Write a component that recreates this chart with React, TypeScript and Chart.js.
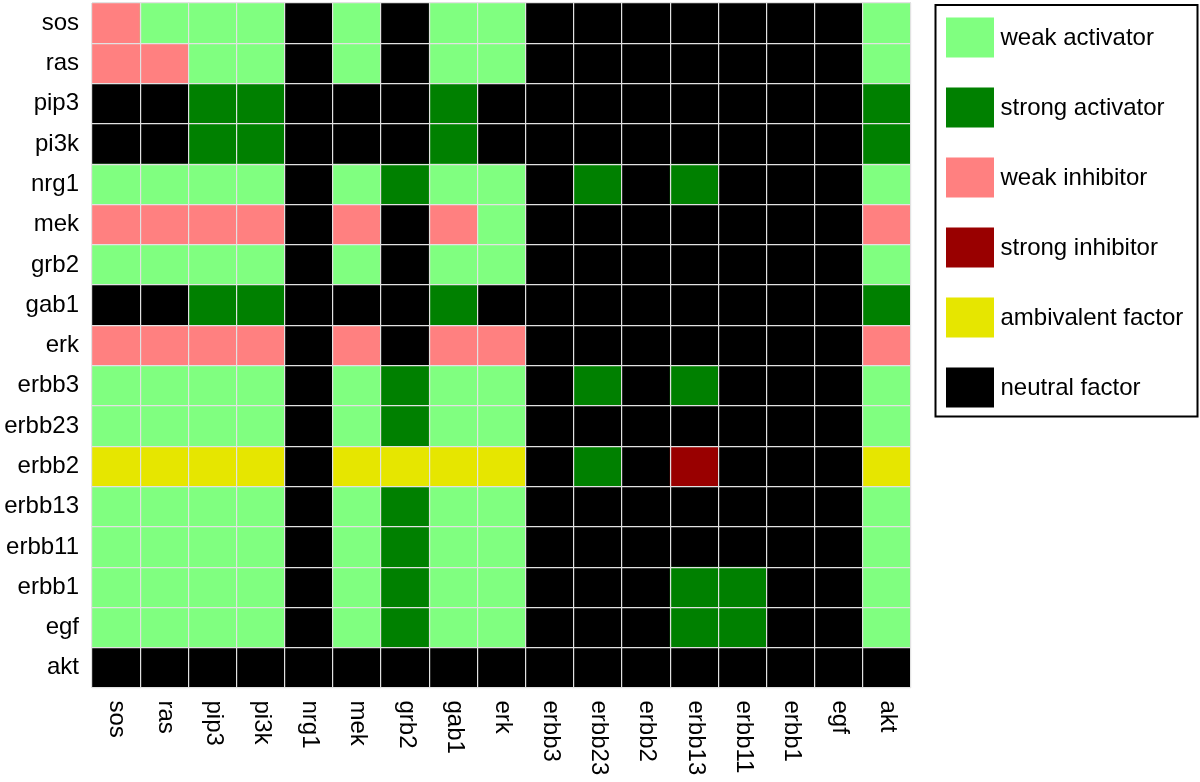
import React, { useEffect, useRef } from "react";
import { Chart, registerables } from "chart.js";

Chart.register(...registerables);

// Regulators (columns) and targets (rows), top to bottom
const columnLabels = ["sos", "ras", "pip3", "pi3k", "nrg1", "mek", "grb2", "gab1", "erk", "erbb3", "erbb23", "erbb2", "erbb13", "erbb11", "erbb1", "egf", "akt"];
const rowLabels = ["sos", "ras", "pip3", "pi3k", "nrg1", "mek", "grb2", "gab1", "erk", "erbb3", "erbb23", "erbb2", "erbb13", "erbb11", "erbb1", "egf", "akt"];

// Cell codes per row: W weak activator, S strong activator, I weak inhibitor,
// R strong inhibitor, Y ambivalent factor, N neutral factor
const rowSos    = ["I","W","W","W","N","W","N","W","W","N","N","N","N","N","N","N","W"];
const rowRas    = ["I","I","W","W","N","W","N","W","W","N","N","N","N","N","N","N","W"];
const rowPip3   = ["N","N","S","S","N","N","N","S","N","N","N","N","N","N","N","N","S"];
const rowPi3k   = ["N","N","S","S","N","N","N","S","N","N","N","N","N","N","N","N","S"];
const rowNrg1   = ["W","W","W","W","N","W","S","W","W","N","S","N","S","N","N","N","W"];
const rowMek    = ["I","I","I","I","N","I","N","I","W","N","N","N","N","N","N","N","I"];
const rowGrb2   = ["W","W","W","W","N","W","N","W","W","N","N","N","N","N","N","N","W"];
const rowGab1   = ["N","N","S","S","N","N","N","S","N","N","N","N","N","N","N","N","S"];
const rowErk    = ["I","I","I","I","N","I","N","I","I","N","N","N","N","N","N","N","I"];
const rowErbb3  = ["W","W","W","W","N","W","S","W","W","N","S","N","S","N","N","N","W"];
const rowErbb23 = ["W","W","W","W","N","W","S","W","W","N","N","N","N","N","N","N","W"];
const rowErbb2  = ["Y","Y","Y","Y","N","Y","Y","Y","Y","N","S","N","R","N","N","N","Y"];
const rowErbb13 = ["W","W","W","W","N","W","S","W","W","N","N","N","N","N","N","N","W"];
const rowErbb11 = ["W","W","W","W","N","W","S","W","W","N","N","N","N","N","N","N","W"];
const rowErbb1  = ["W","W","W","W","N","W","S","W","W","N","N","N","S","S","N","N","W"];
const rowEgf    = ["W","W","W","W","N","W","S","W","W","N","N","N","S","S","N","N","W"];
const rowAkt    = ["N","N","N","N","N","N","N","N","N","N","N","N","N","N","N","N","N"];

const rows = [rowSos, rowRas, rowPip3, rowPi3k, rowNrg1, rowMek, rowGrb2, rowGab1, rowErk, rowErbb3, rowErbb23, rowErbb2, rowErbb13, rowErbb11, rowErbb1, rowEgf, rowAkt];

const legendCodes = ["W", "S", "I", "R", "Y", "N"];
const legendLabels = ["weak activator", "strong activator", "weak inhibitor", "strong inhibitor", "ambivalent factor", "neutral factor"];
const legendColors = ["#80ff80", "#008000", "#ff8080", "#990000", "#e6e600", "#000000"];

const colorOf = (code: string) => legendColors[legendCodes.indexOf(code)];

const FONT = "'Liberation Sans', Arial, Helvetica, sans-serif";

const xLabelPlugin = {
  id: "xLabelsRotated",
  afterDraw(chart: any) {
    const { ctx, chartArea, scales } = chart;
    const xs = scales.x;
    ctx.save();
    ctx.fillStyle = "#000";
    ctx.font = `24px ${FONT}`;
    ctx.textAlign = "left";
    ctx.textBaseline = "middle";
    columnLabels.forEach((lab, i) => {
      const px = xs.getPixelForValue(i);
      ctx.save();
      ctx.translate(px + 1, chartArea.bottom + 12.5);
      ctx.rotate(Math.PI / 2);
      ctx.fillText(lab, 0, 0);
      ctx.restore();
    });
    ctx.restore();
  },
};

const legendPlugin = {
  id: "boxedLegend",
  afterDraw(chart: any) {
    const { ctx, chartArea } = chart;
    const left = chartArea.right + 24.5;
    const top = 5;
    ctx.save();
    ctx.strokeStyle = "#000";
    ctx.lineWidth = 2;
    ctx.strokeRect(left, top, 262, 411.5);
    ctx.font = `24px ${FONT}`;
    ctx.textAlign = "left";
    ctx.textBaseline = "middle";
    legendLabels.forEach((lab, i) => {
      const y = 17.5 + 70 * i;
      ctx.fillStyle = legendColors[i];
      ctx.fillRect(left + 10.5, y, 48, 40);
      ctx.fillStyle = "#000";
      ctx.fillText(lab, left + 65, y + 21);
    });
    ctx.restore();
  },
};

export default function App() {
  const canvasRef = useRef<HTMLCanvasElement | null>(null);

  useEffect(() => {
    if (!canvasRef.current) return;
    Chart.defaults.font.family = FONT;
    // dataset 0 is the bottom row (akt), stacked upward
    const datasets = rows
      .map((r, ri) => ({
        label: rowLabels[ri],
        data: columnLabels.map(() => 1),
        backgroundColor: r.map(colorOf),
        borderWidth: 0,
        barPercentage: 1,
        categoryPercentage: 1,
      }))
      .reverse();

    const chart = new Chart(canvasRef.current, {
      type: "bar",
      data: { labels: columnLabels, datasets },
      options: {
        animation: false,
        responsive: false,
        layout: { padding: { top: 3, bottom: 94, right: 289, left: 0 } },
        plugins: { legend: { display: false }, tooltip: { enabled: false } },
        scales: {
          x: {
            type: "category",
            stacked: true,
            offset: true,
            grid: { offset: true, color: "#e2e2e2", lineWidth: 1.2, z: 1, drawTicks: false },
            border: { display: false },
            ticks: { display: false },
            afterFit: (s: any) => {
              s.height = 0;
              s.paddingLeft = 0;
              s.paddingRight = 0;
            },
          },
          y: {
            type: "linear",
            stacked: true,
            min: 0,
            max: rowLabels.length,
            display: false,
          },
          yLabels: {
            type: "category",
            position: "left",
            labels: rowLabels,
            offset: true,
            grid: { offset: true, color: "#e2e2e2", lineWidth: 1.2, z: 1, drawTicks: false },
            border: { display: false },
            ticks: { color: "#000", font: { size: 24, family: FONT }, padding: 13 },
            afterFit: (s: any) => {
              s.width = 92;
              s.paddingTop = 0;
              s.paddingBottom = 0;
            },
          },
        },
      } as any,
      plugins: [xLabelPlugin, legendPlugin],
    });
    return () => chart.destroy();
  }, []);

  return (
    <div style={{ position: "absolute", left: 0, top: 0, width: 1200, height: 782, background: "#fff" }}>
      <canvas ref={canvasRef} width={1200} height={782} />
    </div>
  );
}
